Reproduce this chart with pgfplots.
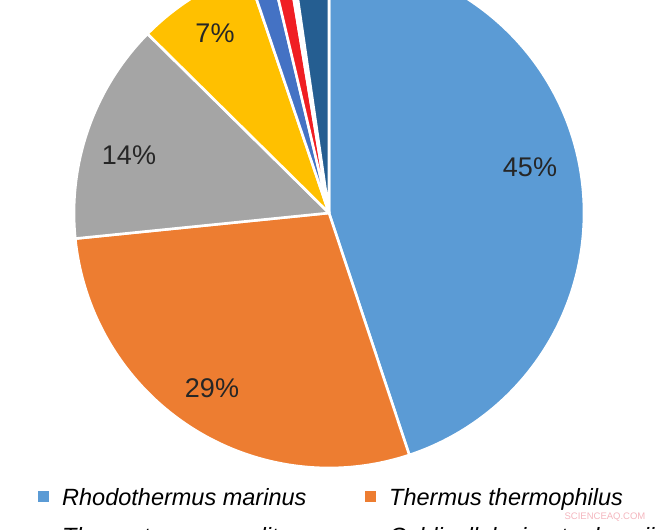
\documentclass[border=0pt]{standalone}
\usepackage{pgfplots}
\pgfplotsset{compat=1.18}
\usepackage{fontspec}
\setmainfont{Liberation Sans}
\definecolor{c1}{HTML}{5B9BD5}
\definecolor{c2}{HTML}{ED7D31}
\definecolor{c3}{HTML}{A5A5A5}
\definecolor{c4}{HTML}{FFC000}
\definecolor{c5}{HTML}{4472C4}
\definecolor{c6}{HTML}{F01E23}
\definecolor{c7}{HTML}{FFFFFF}
\definecolor{c8}{HTML}{255E91}
\definecolor{wm}{HTML}{F4B6BE}
\tikzset{slice/.style={draw=white, line width=2.6pt, line join=round}}
% slice: cumulative share before it, its share (percent), colour
\newcommand\slice[3]{%
  \filldraw[slice, fill=#3] (axis cs:329,317) -- ++({90-3.6*(#1)}:255pt)
    arc[start angle={90-3.6*(#1)}, delta angle={-3.6*(#2)}, radius=255pt] -- cycle;}
\begin{document}
\begin{tikzpicture}
\useasboundingbox (0,0) rectangle (670pt,530pt);
\clip (0,0) rectangle (670pt,530pt);
\begin{axis}[
  at={(0,0)}, anchor=south west,
  scale only axis, width=670pt, height=530pt,
  xmin=0, xmax=670, ymin=0, ymax=530,
  hide axis,
  legend columns=2,
  legend image code/.code={\fill[#1, draw=none] (0pt,-3pt) rectangle (11pt,8pt);},
  legend style={at={(axis cs:38,42)}, anchor=north west, draw=none, fill=none,
    inner sep=0pt, row sep=17pt,
    font=\fontsize{23.5}{28}\selectfont\itshape,
    nodes={inner sep=0pt, text height=17pt, text depth=5pt},
    /tikz/every odd column/.style={column sep=13pt},
    /tikz/every even column/.style={column sep=0pt}},
  legend cell align=left,
]
% shares (percent): 44.9, 28.5, 14.0, 7.4, 1.5, 1.1, 0.3, 2.3
\slice{0}{44.9}{c1}
\slice{44.9}{28.5}{c2}
\slice{73.4}{14.0}{c3}
\slice{87.4}{7.4}{c4}
\slice{94.8}{1.5}{c5}
\slice{96.3}{1.1}{c6}
\slice{97.4}{0.3}{c7}
\slice{97.7}{2.3}{c8}
\node[font=\fontsize{27}{30}\selectfont, text=black!85] at (axis cs:530,363) {45\%};
\node[font=\fontsize{27}{30}\selectfont, text=black!85] at (axis cs:212,142) {29\%};
\node[font=\fontsize{27}{30}\selectfont, text=black!85] at (axis cs:129,375) {14\%};
\node[font=\fontsize{27}{30}\selectfont, text=black!85] at (axis cs:215,497) {7\%};
\node[font=\fontsize{9.5}{11}\selectfont, text=wm] at (axis cs:605,13) {SCIENCEAQ.COM};
\addlegendimage{fill=c1}
\addlegendimage{fill=c2}
\addlegendimage{fill=c3}
\addlegendimage{fill=c4}
\addlegendimage{fill=c5}
\addlegendimage{fill=c6}
\addlegendimage{fill=c7}
\addlegendimage{fill=c8}
\legend{\makebox[303pt][l]{Rhodothermus marinus}, Thermus thermophilus,
  \makebox[303pt][l]{Thermotoga neapolitana}, Caldicellulosiruptor bescii,
  \makebox[303pt][l]{Thermococcus litoralis}, Pyrococcus furiosus,
  \makebox[303pt][l]{Sulfolobus solfataricus}, Thermus aquaticus}
\end{axis}
\end{tikzpicture}
\end{document}
